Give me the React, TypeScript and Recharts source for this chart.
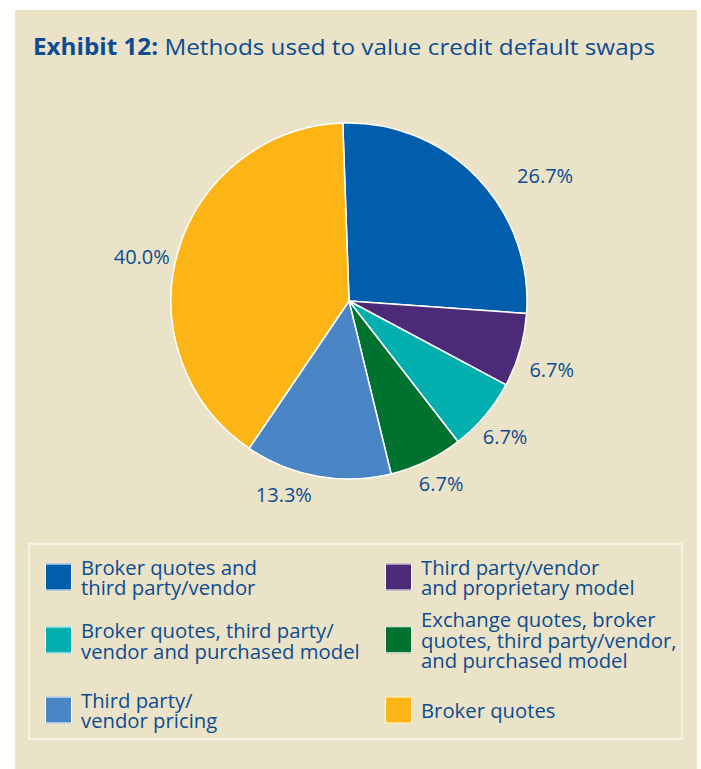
import React from "react";
import { PieChart, Pie, Cell, Legend } from "recharts";

const CATEGORIES = [
  "Broker quotes and\nthird party/vendor",
  "Third party/vendor\nand proprietary model",
  "Broker quotes, third party/\nvendor and purchased model",
  "Exchange quotes, broker\nquotes, third party/vendor,\nand purchased model",
  "Third party/\nvendor pricing",
  "Broker quotes",
];
const SHARES = [26.7, 6.7, 6.7, 6.7, 13.3, 40.0];
const COLORS = ["#005EAD", "#4D2A78", "#00AFAE", "#00722F", "#4A86C5", "#FDB415"];

const TITLE_BOLD = "Exhibit 12:";
const TITLE_REST = " Methods used to value credit default swaps";

const data = CATEGORIES.map((name, i) => ({ name, value: SHARES[i] }));

// label placement tweaks (style only)
const LABEL_ANGLE_SHIFT = [-11.3, -2.6, -0.9, 1.1, -8.4, 3.9];
const LABEL_RADIUS = [233, 214, 207, 204, 204, 212];

const TEXT = "#0D4C92";
const FONT = "'Open Sans', 'Noto Sans', sans-serif";
const RAD = Math.PI / 180;

const renderLabel = (p: any) => {
  const { cx, cy, midAngle, index, value } = p;
  const a = (midAngle + LABEL_ANGLE_SHIFT[index]) * RAD;
  const r = LABEL_RADIUS[index];
  const x = cx + r * Math.cos(-a);
  const y = cy + r * Math.sin(-a);
  return (
    <text
      x={x}
      y={y}
      fill={TEXT}
      fontSize={20}
      fontFamily={FONT}
      textAnchor="middle"
      dominantBaseline="central"
    >
      {Number(value).toFixed(1)}%
    </text>
  );
};

const COL_X = [15, 355];
const ROW_Y = [31.5, 95, 164.5];

const LegendContent = (props: any) => {
  const payload = [...(props.payload || [])].sort(
    (a: any, b: any) => CATEGORIES.indexOf(a.value) - CATEGORIES.indexOf(b.value)
  );
  return (
    <div
      style={{
        position: "relative",
        width: 655,
        height: 197,
        boxSizing: "border-box",
        border: "2px solid #F6F2E6",
      }}
    >
      {payload.map((entry: any, i: number) => {
        const col = i % 2;
        const row = Math.floor(i / 2);
        const lines = String(entry.value).split("\n");
        return (
          <div
            key={i}
            style={{
              position: "absolute",
              left: COL_X[col],
              top: ROW_Y[row],
              transform: "translateY(-50%)",
              display: "flex",
              alignItems: "center",
            }}
          >
            <div
              style={{
                width: 27,
                height: 27,
                background: entry.color,
                border: "1.5px solid #FFFFFF",
                boxSizing: "border-box",
                marginRight: 9,
                flex: "none",
              }}
            />
            <div
              style={{
                fontFamily: FONT,
                fontSize: 20.3,
                lineHeight: "20.5px",
                color: TEXT,
                whiteSpace: "nowrap",
              }}
            >
              {lines.map((l, k) => (
                <div key={k}>{l}</div>
              ))}
            </div>
          </div>
        );
      })}
    </div>
  );
};

export default function App() {
  return (
    <div
      style={{
        position: "absolute",
        left: 0,
        top: 0,
        width: 701,
        height: 769,
        background: "#FFFFFF",
        overflow: "hidden",
      }}
    >
      <div
        style={{
          position: "absolute",
          left: 15,
          top: 10,
          width: 682,
          height: 759,
          background: "#EAE3C7",
        }}
      />
      <svg
        width={701}
        height={80}
        style={{ position: "absolute", left: 0, top: 0 }}
      >
        <text
          x={33}
          y={55}
          fontFamily={FONT}
          fontSize={22.5}
          fill={TEXT}
          textLength={622}
          lengthAdjust="spacingAndGlyphs"
        >
          <tspan fontWeight={700}>{TITLE_BOLD}</tspan>
          <tspan>{TITLE_REST}</tspan>
        </text>
      </svg>
      <div style={{ position: "absolute", left: 0, top: 0 }}>
        <PieChart width={701} height={769} margin={{ top: 0, right: 0, bottom: 0, left: 0 }}>
          <Pie
            data={data}
            dataKey="value"
            nameKey="name"
            cx={349}
            cy={301}
            outerRadius={178}
            startAngle={92}
            endAngle={-268}
            stroke="#FFFFFF"
            strokeWidth={1.5}
            label={renderLabel}
            labelLine={false}
            isAnimationActive={false}
          >
            {data.map((d, i) => (
              <Cell key={d.name} fill={COLORS[i]} />
            ))}
          </Pie>
          <Legend
            verticalAlign="bottom"
            layout="horizontal"
            content={<LegendContent />}
            wrapperStyle={{ left: 28, top: 543, bottom: "auto", width: 655, height: 197 }}
          />
        </PieChart>
      </div>
    </div>
  );
}
